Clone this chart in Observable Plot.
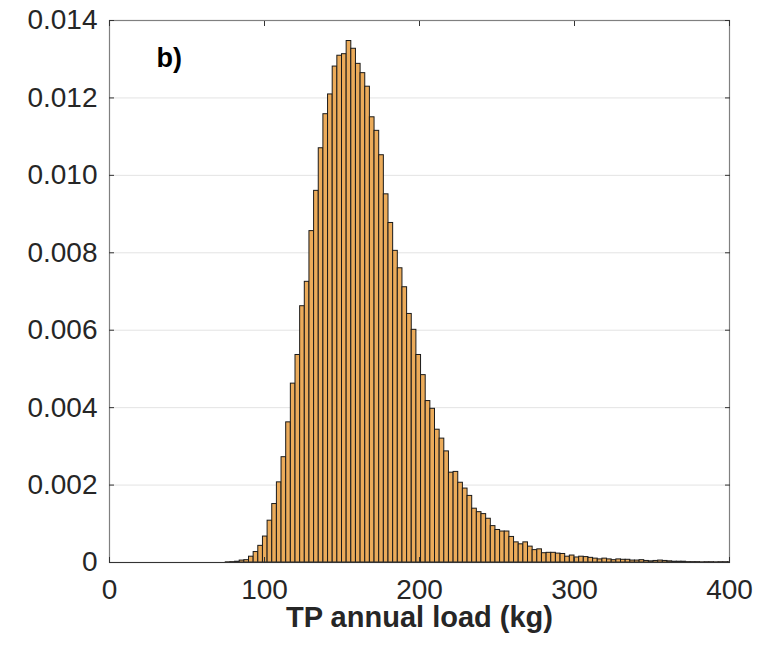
<!DOCTYPE html>
<html>
<head>
<meta charset="utf-8">
<script src="https://cdn.jsdelivr.net/npm/d3@7"></script>
<script src="https://cdn.jsdelivr.net/npm/@observablehq/plot@0.6"></script>
<style>
  html, body { margin: 0; padding: 0; background: #fff; }
  svg { display: block; }
</style>
</head>
<body>
<div id="chart"></div>
<script>
// Bin left edges (kg), bin width 3 kg
const binLeft = [75,78,81,84,87,90,93,96,99,102,105,108,111,114,117,120,123,126,129,132,135,138,141,144,147,150,153,156,159,162,165,168,171,174,177,180,183,186,189,192,195,198,201,204,207,210,213,216,219,222,225,228,231,234,237,240,243,246,249,252,255,258,261,264,267,270,273,276,279,282,285,288,291,294,297,300,303,306,309,312,315,318,321,324,327,330,333,336,339,342,345,348,351,354,357,360,363,366,369,372,375,378,381,384,387,390,393,396,399];
const binWidth = 3;
// Probability density per bin
const density = [0.000005,0.00001,0.00002,0.00005,0.00006,0.00015,0.00027,0.00043,0.00067,0.00108,0.00151,0.00207,0.00272,0.00362,0.00462,0.00536,0.00662,0.00725,0.00856,0.00960,0.01070,0.01158,0.01209,0.01281,0.01309,0.01313,0.01347,0.01327,0.01288,0.01264,0.01229,0.01150,0.01115,0.01052,0.00951,0.00877,0.00805,0.00760,0.00711,0.00642,0.00601,0.00536,0.00484,0.00417,0.00397,0.00343,0.00320,0.00287,0.00232,0.00234,0.00206,0.00191,0.00172,0.00139,0.00130,0.00125,0.00113,0.00094,0.00084,0.00080,0.00080,0.00066,0.00052,0.00047,0.00052,0.00041,0.00032,0.00034,0.00024,0.00025,0.00025,0.00023,0.00022,0.00015,0.00018,0.00013,0.00015,0.00014,0.00012,0.00010,0.00008,0.00010,0.00008,0.00006,0.00008,0.00007,0.00007,0.00005,0.00005,0.00006,0.00004,0.00003,0.00004,0.00005,0.00004,0.00003,0.00002,0.00002,0.00002,0.00001,0.00001,0.00001,0.000005,0.000008,0.000008,0.000005,0.000008,0.000008,0.000008];
const xTicks = [0, 100, 200, 300, 400];
const yTicks = [0, 0.002, 0.004, 0.006, 0.008, 0.010, 0.012, 0.014];
const xLabel = "TP annual load (kg)";
const panelLabel = "b)";

const bins = binLeft.map((x, i) => ({x1: x, x2: x + binWidth, y: density[i]}));

const font = "'Liberation Sans', Arial, sans-serif";
const chart = Plot.plot({
  width: 763,
  height: 648,
  marginLeft: 109,
  marginRight: 34,
  marginTop: 20,
  marginBottom: 86,
  style: {fontFamily: font, background: "#fff", color: "#262626"},
  x: {domain: [0, 400]},
  y: {domain: [0, 0.014]},
  marks: [
    Plot.gridY(yTicks, {stroke: "#e3e3e3", strokeOpacity: 1, strokeWidth: 1}),
    Plot.rectY(bins, {x1: "x1", x2: "x2", y: "y", fill: "#ebab5a", stroke: "#1a1a1a", strokeWidth: 1, clip: true}),
    Plot.frame({stroke: "#808080", strokeWidth: 1.2}),
    Plot.ruleY([0], {stroke: "#333", strokeWidth: 1.2}),
    Plot.axisX(xTicks, {tickSize: -5, tickPadding: 22, fontSize: 28, label: null, stroke: "#333", fill: "#262626"}),
    Plot.axisX(xTicks, {anchor: "top", tickSize: -5, tickFormat: () => "", label: null, stroke: "#333"}),
    Plot.axisY(yTicks, {tickSize: -5, tickPadding: 17, fontSize: 28, label: null, stroke: "#333", fill: "#262626",
      tickFormat: d => d === 0 ? "0" : d.toFixed(3)}),
    Plot.axisY(yTicks, {anchor: "right", tickSize: -5, tickFormat: () => "", label: null, stroke: "#333"}),
    Plot.text([xLabel], {text: d => d, frameAnchor: "bottom", dy: 64, fontSize: 29, fontWeight: "bold", fill: "#262626"}),
    Plot.text([panelLabel], {text: d => d, frameAnchor: "top-left", dx: 47, dy: 27, textAnchor: "start", fontSize: 27, fontWeight: "bold", fill: "#000"})
  ]
});
document.getElementById("chart").appendChild(chart);
</script>
</body>
</html>
